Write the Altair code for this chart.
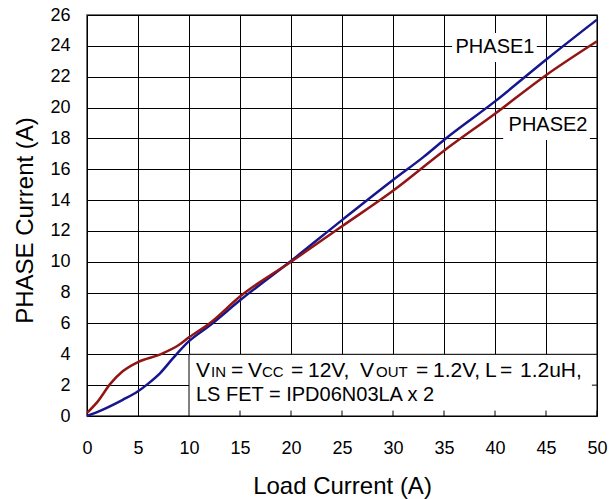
import altair as alt
import pandas as pd

# Measured phase currents versus total load current
phase1_load = [0, 1.5, 3.5, 5, 6, 7.2, 8.5, 10, 12, 15, 20, 25, 30, 33, 35, 40, 45, 50]
phase1_amps = [0, 0.4, 1.05, 1.6, 2.1, 2.8, 3.8, 4.85, 5.85, 7.5, 10.05, 12.7, 15.3, 16.8, 17.9, 20.4, 23.1, 25.7]

phase2_load = [0, 1, 2.3, 3.5, 5, 7.2, 9, 10, 12, 15, 20, 25, 30, 35, 40, 45, 50]
phase2_amps = [0.2, 0.9, 2.1, 2.9, 3.5, 4.0, 4.6, 5.1, 6.0, 7.75, 10.0, 12.3, 14.6, 17.2, 19.6, 22.1, 24.3]

x_ticks = list(range(0, 51, 5))
y_ticks = list(range(0, 27, 2))

FONT = "Liberation Sans"
BLUE = "#16168f"
RED = "#921515"

W, H = 510, 401

df = pd.concat([
    pd.DataFrame({"load": phase1_load, "amps": phase1_amps, "phase": "PHASE1"}),
    pd.DataFrame({"load": phase2_load, "amps": phase2_amps, "phase": "PHASE2"}),
])

x_scale = alt.Scale(domain=[0, 50], nice=False)
y_scale = alt.Scale(domain=[0, 26], nice=False)

X_AXIS = alt.Axis(values=x_ticks, title="Load Current (A)", grid=True,
                  gridColor="black", gridWidth=1, gridOpacity=1,
                  ticks=False, domain=False, labelFont=FONT, labelFontSize=18,
                  labelColor="black", labelBaseline="alphabetic", labelPadding=37,
                  labelOverlap=False, labelFlush=False,
                  titleFont=FONT, titleFontSize=24, titleFontWeight="normal",
                  titleColor="black", titleX=W / 2, titleY=77,
                  titleBaseline="alphabetic")
Y_AXIS = alt.Axis(values=y_ticks, title="PHASE Current (A)", grid=True,
                  gridColor="black", gridWidth=1, gridOpacity=1,
                  ticks=False, domain=False, labelFont=FONT, labelFontSize=18,
                  labelColor="black", labelPadding=17, labelFlush=False,
                  labelOverlap=False,
                  titleFont=FONT, titleFontSize=24, titleFontWeight="normal",
                  titleColor="black", titleAngle=-90, titleX=-62, titleY=205,
                  titleBaseline="middle", titleAlign="center")


def qx(field):
    return alt.X(field, type="quantitative", scale=x_scale, axis=X_AXIS)


def qy(field):
    return alt.Y(field, type="quantitative", scale=y_scale, axis=Y_AXIS)


lines = alt.Chart(df).mark_line(strokeWidth=2.5, interpolate="monotone").encode(
    x=qx("load"), y=qy("amps"),
    color=alt.Color("phase:N", scale=alt.Scale(domain=["PHASE1", "PHASE2"], range=[BLUE, RED]),
                    legend=None),
)

# Condition box in the lower right corner
box = alt.Chart(pd.DataFrame({"x": [10], "x2": [50], "y": [0], "y2": [4]})).mark_rect(
    fill="white", stroke="black", strokeWidth=1
).encode(x=qx("x"), x2="x2:Q", y=qy("y"), y2="y2:Q")

# Inward tick marks that stay visible over the box
tick_df = pd.DataFrame({"x": [v for v in x_ticks if v > 10], "y0": 0.0, "y1": 0.35})
bottom_ticks = alt.Chart(tick_df).mark_rule(color="black", strokeWidth=1).encode(
    x=qx("x"), y=qy("y0"), y2="y1:Q")
right_ticks = alt.Chart(pd.DataFrame({"y": [2], "x0": [49.5], "x1": [50]})).mark_rule(
    color="black", strokeWidth=1).encode(y=qy("y"), x=qx("x0"), x2="x1:Q")


def token(text, left, baseline, size):
    return alt.Chart(pd.DataFrame({"t": [text]})).mark_text(
        align="left", baseline="alphabetic", font=FONT, fontSize=size, color="black"
    ).encode(text="t:N", x=alt.value(left - 87), y=alt.value(baseline - 15))


MAIN, SUB = 21, 15
L1, L2 = 377, 401
note = [
    token("V", 196, L1, MAIN), token("IN", 211, L1, SUB), token("=", 231, L1, MAIN),
    token("V", 248, L1, MAIN), token("CC", 262, L1, SUB), token("=", 291, L1, MAIN),
    token("12V,", 308, L1, MAIN), token("V", 360, L1, MAIN), token("OUT", 376, L1, SUB),
    token("=", 416, L1, MAIN), token("1.2V,", 433, L1, MAIN), token("L", 485, L1, MAIN),
    token("=", 500, L1, MAIN), token("1.2uH,", 520, L1, MAIN),
    token("LS FET = IPD06N03LA x 2", 196, L2, 20),
]

# Series labels on white patches
lab_df = pd.DataFrame({
    "label": ["PHASE1", "PHASE2"],
    "x": [40, 45.2], "y": [23.9, 18.9],
    "bx": [35.8, 40.8], "bx2": [44.1, 49.3],
    "by": [22.96, 17.9], "by2": [24.84, 19.84],
})
lab_bg = alt.Chart(lab_df).mark_rect(fill="white").encode(
    x=qx("bx"), x2="bx2:Q", y=qy("by"), y2="by2:Q")
lab_txt = alt.Chart(lab_df).mark_text(font=FONT, fontSize=20, color="black",
                                      align="center", baseline="middle").encode(
    x=qx("x"), y=qy("y"), text="label:N")

chart = alt.layer(lines, box, bottom_ticks, right_ticks, lab_bg, lab_txt, *note).properties(
    width=W, height=H,
    autosize=alt.AutoSizeParams(type="none"),
    padding={"left": 87, "top": 15, "right": 15, "bottom": 83},
    background="white",
).configure_view(stroke="#444", strokeWidth=1.5)

chart.save("out.html", embed_options={"renderer": "svg", "actions": False})
